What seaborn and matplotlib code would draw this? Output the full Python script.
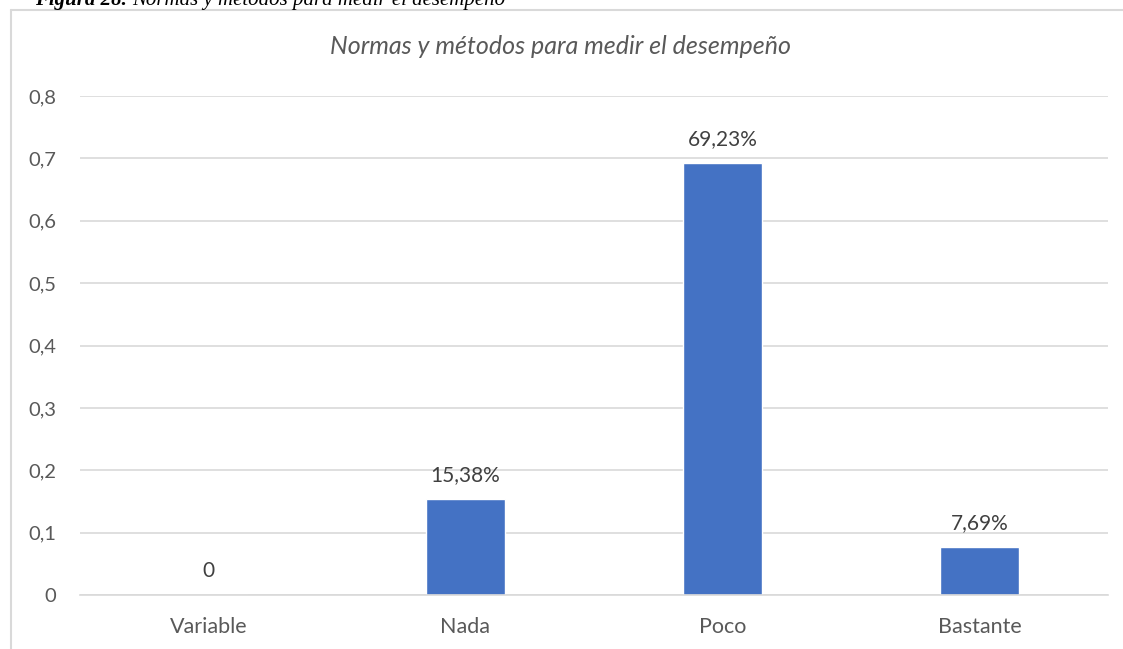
import matplotlib
matplotlib.use("Agg")
import matplotlib.pyplot as plt
import seaborn as sns
import pandas as pd
from matplotlib.lines import Line2D

categories = ["Variable", "Nada", "Poco", "Bastante"]
values = [0.0, 0.1538, 0.6923, 0.0769]
bar_labels = ["0", "15,38%", "69,23%", "7,69%"]
yticks = [0, 0.1, 0.2, 0.3, 0.4, 0.5, 0.6, 0.7, 0.8]
ytick_labels = ["0", "0,1", "0,2", "0,3", "0,4", "0,5", "0,6", "0,7", "0,8"]
title = "Normas y métodos para medir el desempeño"

sns.set_theme(style="white")
plt.rcParams["font.family"] = ["Lato", "DejaVu Sans"]

W, H = 1123, 649
fig = plt.figure(figsize=(W / 100, H / 100), dpi=100)
ax = fig.add_axes([80 / W, 1 - 595 / H, (1108 - 80) / W, (595 - 96) / H])

df = pd.DataFrame({"cat": categories, "val": values})
sns.barplot(data=df, x="cat", y="val", color="#4472C4", width=0.31,
            saturation=1, ax=ax)

ax.set_ylim(0, 0.8)
ax.set_xlim(-0.5, 3.5)
ax.set_yticks(yticks)
ax.set_yticklabels(ytick_labels)
ax.yaxis.grid(True, color="#D9D9D9", linewidth=1.2)
ax.set_axisbelow(True)
for s in ["top", "right", "left"]:
    ax.spines[s].set_visible(False)
ax.spines["bottom"].set_color("#D9D9D9")
ax.spines["bottom"].set_linewidth(1.2)
ax.tick_params(axis="x", length=0, labelsize=15.5, labelcolor="#595959", pad=16)
ax.tick_params(axis="y", length=0, labelsize=14.5, labelcolor="#595959", pad=17)
ax.set_xlabel("")
ax.set_ylabel("")

ax.bar_label(ax.containers[0], labels=bar_labels, padding=10,
             fontsize=15, color="#404040")

fig.text(561 / W, 1 - 47 / H, title, ha="center", va="center",
         fontsize=18, style="italic", color="#595959")

# outer frame
fig.add_artist(Line2D([11 / W, 1], [1 - 10 / H, 1 - 10 / H],
                      transform=fig.transFigure, color="#D9D9D9", linewidth=1.5))
fig.add_artist(Line2D([11 / W, 11 / W], [0, 1 - 10 / H],
                      transform=fig.transFigure, color="#D9D9D9", linewidth=1.5))

# caption (partly cut off at the top edge, as in the reference)
t1 = fig.text(35 / W, 1 - 5 / H, "Figura 28. ", ha="left", va="baseline",
              fontsize=15, fontweight="bold", style="italic",
              family="Liberation Serif", color="black")
fig.canvas.draw()
bb = t1.get_window_extent()
fig.text(bb.x1 / W, 1 - 5 / H, "Normas y métodos para medir el desempeño",
         ha="left", va="baseline", fontsize=15, style="italic",
         family="Liberation Serif", color="black")

fig.savefig("out.png", dpi=100)
